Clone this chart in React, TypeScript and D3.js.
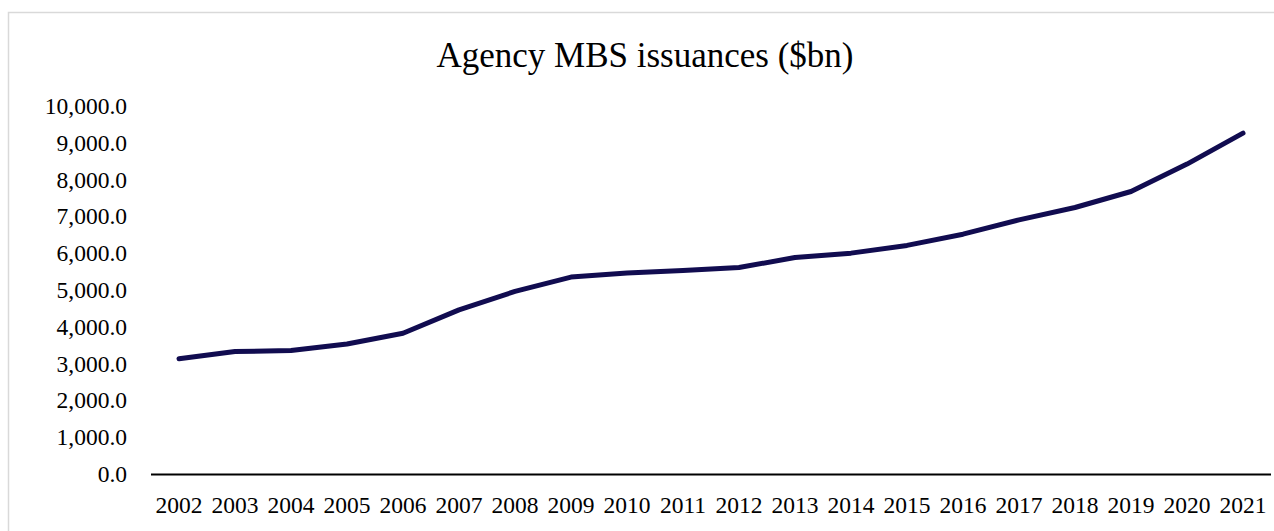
import React from "react";
import * as d3 from "d3";

const years = ["2002","2003","2004","2005","2006","2007","2008","2009","2010","2011","2012","2013","2014","2015","2016","2017","2018","2019","2020","2021"];
const issuances = [3145, 3340, 3370, 3545, 3840, 4475, 4975, 5365, 5475, 5545, 5625, 5895, 6015, 6225, 6530, 6920, 7255, 7690, 8435, 9275];
const yTicks = [0, 1000, 2000, 3000, 4000, 5000, 6000, 7000, 8000, 9000, 10000];
const title = "Agency MBS issuances ($bn)";

const W = 1274;
const H = 531;
const FONT = "'Liberation Serif', 'Times New Roman', serif";

export default function App() {
  const x = d3.scaleBand<string>().domain(years).range([151, 1271]).padding(0);
  const y = d3.scaleLinear().domain([0, 10000]).range([474.5, 106.5]);
  const fmt = d3.format(",.1f");
  const line = d3
    .line<number>()
    .x((_, i) => (x(years[i]) as number) + x.bandwidth() / 2)
    .y((d) => y(d));

  return (
    <svg
      width={W}
      height={H}
      style={{ position: "absolute", left: 0, top: 0, background: "#fff" }}
    >
      <rect x={0} y={0} width={W} height={H} fill="#fff" />
      <rect x={8.5} y={12.5} width={1300} height={560} fill="#fff" stroke="#d9d9d9" strokeWidth={1.5} />
      <text x={645} y={67} textAnchor="middle" fontFamily={FONT} fontSize={35} fill="#000">
        {title}
      </text>
      {yTicks.map((t) => (
        <text key={t} x={127} y={y(t) + 7.5} textAnchor="end" fontFamily={FONT} fontSize={23.5} fill="#000">
          {fmt(t)}
        </text>
      ))}
      <line x1={151} x2={1271} y1={y(0)} y2={y(0)} stroke="#000" strokeWidth={2} />
      {years.map((yr) => (
        <text
          key={yr}
          x={(x(yr) as number) + x.bandwidth() / 2}
          y={513}
          textAnchor="middle"
          fontFamily={FONT}
          fontSize={23.5}
          fill="#000"
        >
          {yr}
        </text>
      ))}
      <path
        d={line(issuances) || ""}
        fill="none"
        stroke="#110c50"
        strokeWidth={5}
        strokeLinecap="round"
        strokeLinejoin="round"
      />
    </svg>
  );
}
